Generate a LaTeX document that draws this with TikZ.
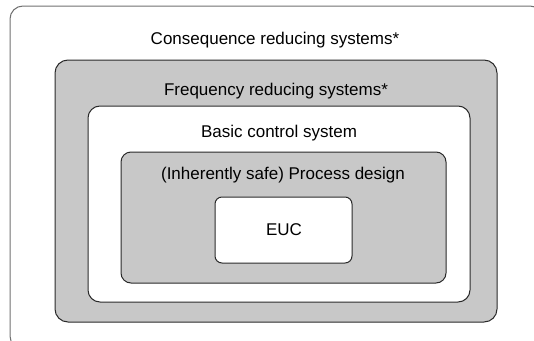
\documentclass[tikz,border=0pt]{standalone}
\usepackage{fontspec}
\setmainfont{Liberation Sans}
\definecolor{layergray}{HTML}{C8C8C8}
\definecolor{edgedark}{HTML}{2A2A2A}
\definecolor{edgeouter}{HTML}{707070}
\tikzset{
  layer/.style={draw=edgedark, line width=1pt},
  lbl/.style={font=\fontsize{17}{20}\selectfont, text=black, anchor=base, inner sep=0pt}
}
\begin{document}
\begin{tikzpicture}[x=1pt, y=-1pt]
  \useasboundingbox (0,0) rectangle (534,340);
  \clip (0,0) rectangle (534,340);
  % outermost layer runs past the right and bottom edges
  \draw[draw=edgeouter, line width=1pt, rounded corners=13pt] (10,6) rectangle (543,349);
  \node[lbl] (consequence) at (275,44) {Consequence reducing systems*};
  % frequency reducing layer
  \draw[layer, fill=layergray, rounded corners=13pt] (55,60) rectangle (497,322);
  \node[lbl] (frequency) at (276,95) {Frequency reducing systems*};
  % basic control system
  \draw[layer, fill=white, rounded corners=12pt] (88,106) rectangle (470,302);
  \node[lbl] (basic) at (279,137) {Basic control system};
  % process design
  \draw[layer, fill=layergray, rounded corners=10pt] (121,152) rectangle (446,283);
  \node[lbl] (process) at (283,179) {(Inherently safe) Process design};
  % equipment under control
  \draw[layer, fill=white, rounded corners=7pt] (215,197) rectangle (352,263);
  \node[lbl] (euc) at (284,235.5) {EUC};
\end{tikzpicture}
\end{document}
